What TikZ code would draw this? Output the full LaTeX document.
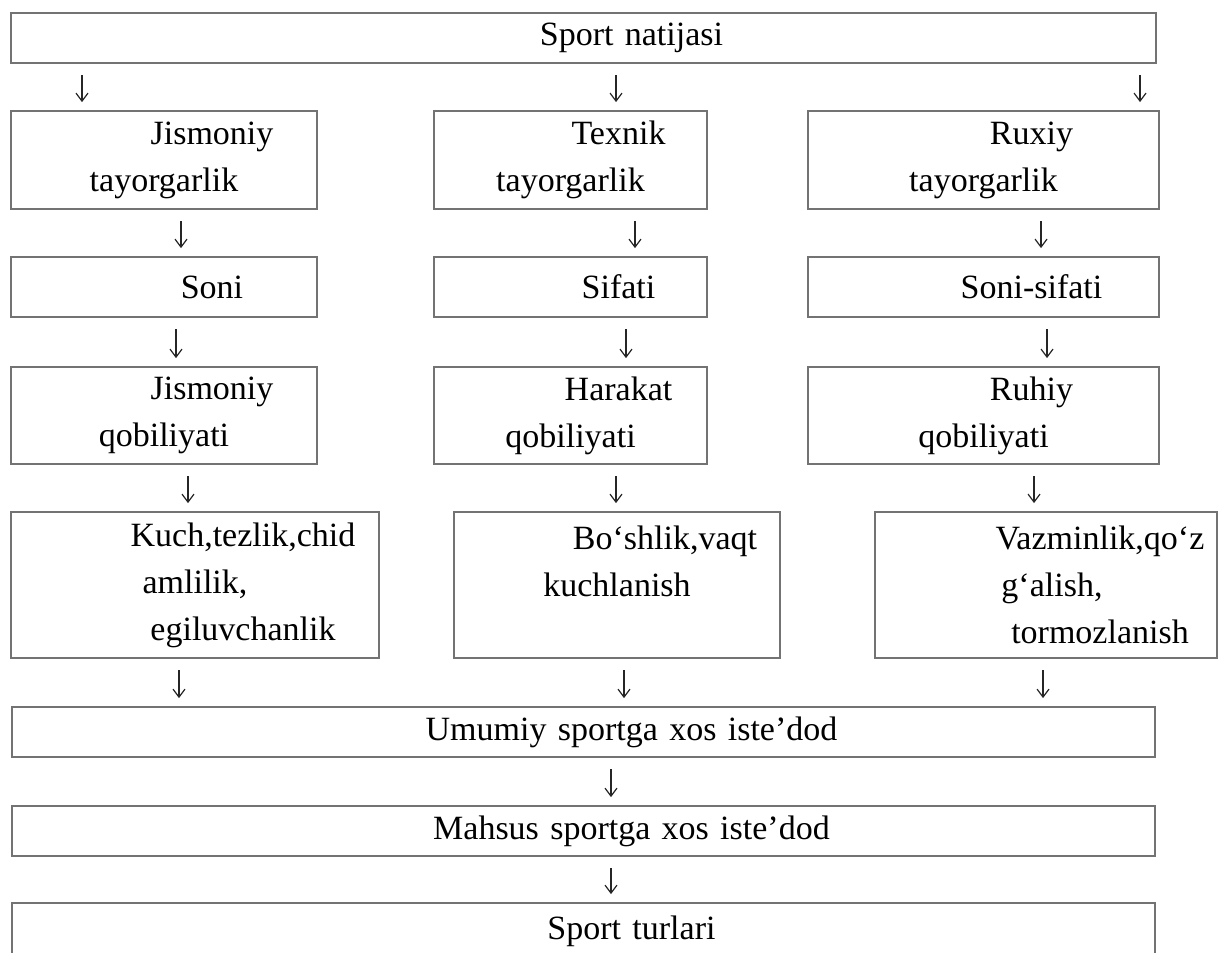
\documentclass[tikz,border=0pt]{standalone}
\usepackage{fontspec}
\setmainfont{Liberation Serif}
\usetikzlibrary{arrows.meta, positioning}
\newcommand{\fli}[1][48pt]{\hspace*{#1}}

\begin{document}
\begin{tikzpicture}[
    x=0.5pt, y=-0.5pt,
    box/.style={draw=black!55, line width=0.9pt, inner sep=0pt, align=center,
                font=\fontsize{17}{23.5}\selectfont},
    wbox/.style={box, text width=#1, minimum width=#1},
    arr/.style={draw=black!85, line width=0.6pt,
                -{Straight Barb[length=4pt,width=6pt]},
                shorten <=5.75pt, shorten >=4pt}
]
  \useasboundingbox (0,0) rectangle (1218,952);
  \clip (0,0) rectangle (1218,952);

  \node[wbox=572.5pt, minimum height=25pt] (natija) at (583.5,38) {\fli Sport natijasi};

  \node[wbox=153pt, minimum height=49pt] (jt) at (164,160) {\fli Jismoniy\\tayorgarlik};
  \node[wbox=136.5pt, minimum height=49pt] (tt) at (570.5,160) {\fli Texnik\\tayorgarlik};
  \node[wbox=175.5pt, minimum height=49pt] (rt) at (983.5,160) {\fli Ruxiy\\tayorgarlik};

  \node[wbox=153pt, minimum height=30pt] (js) at (164,287) {\fli Soni};
  \node[wbox=136.5pt, minimum height=30pt] (ts) at (570.5,287) {\fli Sifati};
  \node[wbox=175.5pt, minimum height=30pt] (rs) at (983.5,287) {\fli Soni-sifati};

  \node[wbox=153pt, minimum height=48.5pt] (jq) at (164,415.5) {\fli Jismoniy\\qobiliyati};
  \node[wbox=136.5pt, minimum height=48.5pt] (tq) at (570.5,415.5) {\fli Harakat\\qobiliyati};
  \node[wbox=175.5pt, minimum height=48.5pt] (rq) at (983.5,415.5) {\fli Ruhiy\\qobiliyati};

  \node[wbox=184pt, minimum height=73pt] (jk) at (195,585)
       {\fli Kuch,tezlik,chid\\amlilik,\\\fli egiluvchanlik};
  \node[wbox=163pt, minimum height=73pt] (tk) at (617,585)
       {\fli Bo‘shlik,vaqt\\kuchlanish\\\mbox{}};
  \node[wbox=171pt, minimum height=73pt] (rk) at (1046,585)
       {\fli[54pt]Vazminlik,qo‘z\\\fli[6pt]g‘alish,\\\fli[54pt]tormozlanish};

  \node[wbox=571.5pt, minimum height=25pt] (umumiy) at (583.5,732) {\fli Umumiy sportga xos iste’dod};
  \node[wbox=571.5pt, minimum height=25pt] (mahsus) at (583.5,831) {\fli Mahsus sportga xos iste’dod};
  \node[wbox=571.5pt, minimum height=28pt] (turlar) at (583.5,931) {\fli Sport turlari};

  \foreach \x/\a/\b in {82/natija/jt, 616/natija/tt, 1140/natija/rt,
                        181/jt/js, 635/tt/ts, 1041/rt/rs,
                        176/js/jq, 626/ts/tq, 1047/rs/rq,
                        188/jq/jk, 616/tq/tk, 1034/rq/rk,
                        179/jk/umumiy, 624/tk/umumiy, 1043/rk/umumiy,
                        611/umumiy/mahsus, 611/mahsus/turlar}
    \draw[arr] (\x,0 |- \a.south) -- (\x,0 |- \b.north);
\end{tikzpicture}
\end{document}
